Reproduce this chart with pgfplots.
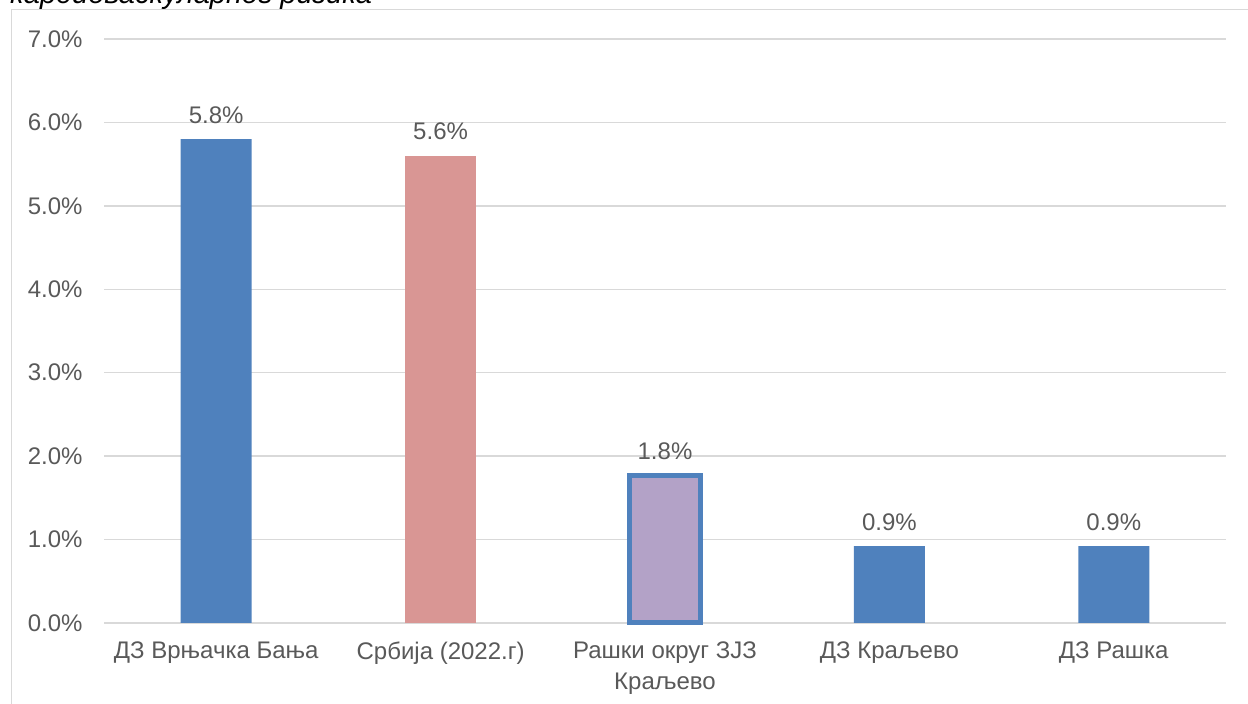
\documentclass[border=0pt]{standalone}
\usepackage{pgfplots}
\pgfplotsset{compat=1.18}
\usepackage{fontspec}
\setmainfont{Liberation Sans}
\definecolor{cblue}{HTML}{4F81BD}
\definecolor{cpink}{HTML}{D99694}
\definecolor{cpurple}{HTML}{B3A2C7}
\definecolor{cgrid}{HTML}{D9D9D9}
\definecolor{ctext}{HTML}{595959}
\begin{document}
\begin{tikzpicture}[x=1pt,y=1pt]
\useasboundingbox (0,0) rectangle (1248,704);
\clip (0,0) rectangle (1248,704);
\draw[cgrid, line width=1.3pt] (11.5,-10) -- (11.5,694.5) -- (1260,694.5);
\node[anchor=base west, inner sep=0pt, font=\fontsize{29}{34}\selectfont\itshape] at (10,700) {кардиоваскуларног ризика};
\begin{axis}[
  at={(104pt,81pt)}, anchor=south west,
  scale only axis, width=1122pt, height=584pt,
  xmin=-0.5, xmax=4.5, ymin=0, ymax=7,
  ytick={0,1,2,3,4,5,6,7},
  xtick={0,1,2,3,4},
  xticklabels={ДЗ Врњачка Бања, Србија (2022.г), {Рашки округ ЗЈЗ\\Краљево}, ДЗ Краљево, ДЗ Рашка},
  yticklabel={\pgfmathprintnumber[fixed,fixed zerofill,precision=1]{\tick}\%},
  /pgf/number format/assume math mode=true,
  axis line style={draw=none},
  major tick length=0pt,
  ymajorgrids, grid style={cgrid, line width=1.3pt},
  ticklabel style={font=\fontsize{24}{31}\selectfont, text=ctext},
  xticklabel style={align=center, yshift=-15pt},
  yticklabel style={xshift=-18pt},
  ybar, bar width=71pt, bar shift=0pt,
  nodes near coords={\pgfmathprintnumber[fixed,fixed zerofill,precision=1]{\pgfplotspointmeta}\%},
  every node near coord/.append style={font=\fontsize{24}{28}\selectfont, text=ctext, anchor=base, inner sep=0pt, yshift=16pt},
  clip=false,
]
\addplot[fill=cblue, draw=none] coordinates {(0,5.8) (3,0.92) (4,0.92)};
\addplot[fill=cpink, draw=none] coordinates {(1,5.6)};
\addplot[fill=cpurple, draw=cblue, line width=5pt] coordinates {(2,1.77)};
\end{axis}
\end{tikzpicture}
\end{document}
